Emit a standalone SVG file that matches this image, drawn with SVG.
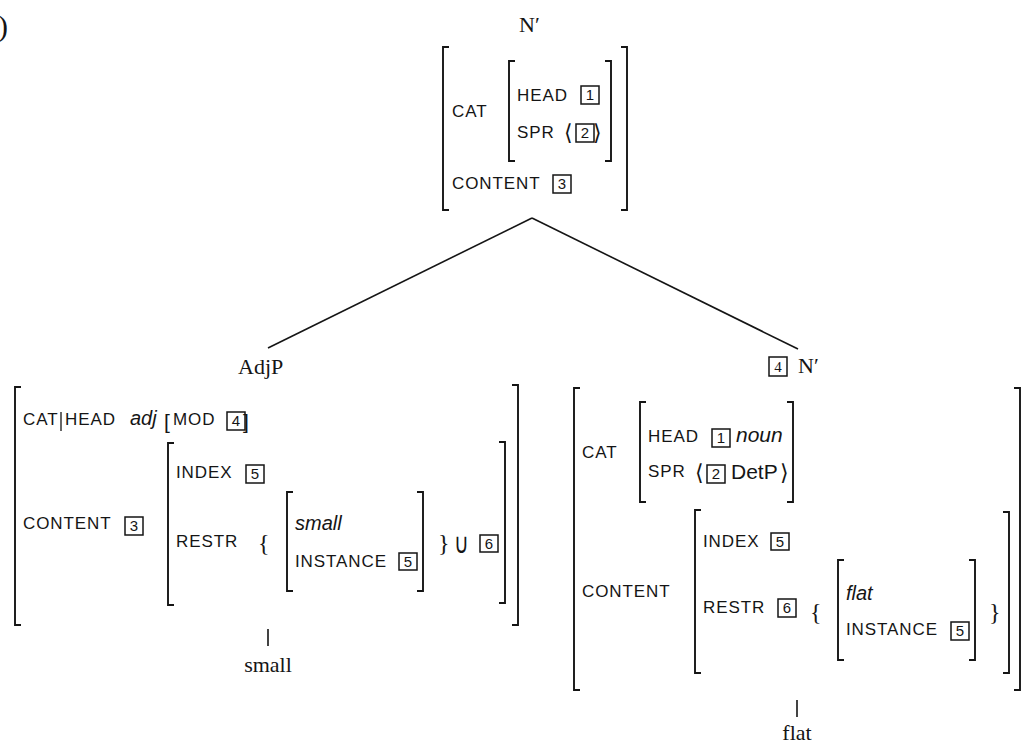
<svg xmlns="http://www.w3.org/2000/svg" width="1024" height="747" viewBox="0 0 1024 747">
<style>
.f{font-family:"Liberation Sans",Arial,sans-serif;font-size:17px;letter-spacing:0.9px;fill:#151515}
.i{font-family:"Liberation Sans",Arial,sans-serif;font-style:italic;font-size:20px;fill:#151515}
.m{font-family:"Liberation Sans",Arial,sans-serif;font-size:21px;fill:#151515}
.s{font-family:"Liberation Serif","Times New Roman",serif;font-size:22px;fill:#151515}
.d{font-family:"DejaVu Sans",sans-serif;font-size:22px;fill:#151515}
.n{font-family:"Liberation Sans",Arial,sans-serif;font-size:15px;text-anchor:middle;fill:#151515}
.bx{fill:none;stroke:#151515;stroke-width:1.5}
.br{fill:none;stroke:#151515;stroke-width:1.9}
.ln{fill:none;stroke:#151515;stroke-width:1.6}
</style>
<rect width="1024" height="747" fill="#ffffff"/>
<text class="s" x="-2" y="36" style="font-size:30px">)</text>

<g id="connectors">
<line class="ln" x1="532" y1="218" x2="268" y2="348"/>
<line class="ln" x1="532" y1="218" x2="798" y2="349"/>
<line class="ln" x1="268" y1="629" x2="268" y2="646"/>
<line class="ln" x1="797" y1="700" x2="797" y2="717"/>
</g>

<g id="root">
<text class="s" x="519" y="32">N′</text>
<path class="br" d="M449,47 H443 V210 H449"/>
<path class="br" d="M621,47 H627 V210 H621"/>
<path class="br" d="M515,61 H509 V161 H515"/>
<path class="br" d="M605,61 H611 V161 H605"/>
<text class="f" x="452" y="117">CAT</text>
<text class="f" x="517" y="101">HEAD</text>
<rect class="bx" x="581" y="86" width="18" height="18"/><text class="n" x="590" y="100">1</text>
<text class="f" x="517" y="138">SPR</text>
<text class="d" x="564" y="140">⟨</text>
<rect class="bx" x="576" y="124" width="18" height="18"/><text class="n" x="585" y="138">2</text>
<text class="d" x="593" y="140">⟩</text>
<text class="f" x="452" y="189">CONTENT</text>
<rect class="bx" x="553" y="175" width="18" height="18"/><text class="n" x="562" y="189">3</text>
</g>

<g id="adjp">
<text class="s" x="238" y="374">AdjP</text>
<path class="br" d="M21,387 H15 V625 H21"/>
<path class="br" d="M512,385 H518 V625 H512"/>
<text class="f" x="23" y="425">CAT</text>
<line class="ln" x1="61" y1="412" x2="61" y2="431" style="stroke-width:1.3"/>
<text class="f" x="65" y="425">HEAD</text>
<text class="i" x="130" y="425" style="font-size:20px">adj</text>
<text class="m" x="164" y="429" style="font-size:21px">[</text>
<text class="f" x="173" y="425">MOD</text>
<rect class="bx" x="227" y="412" width="18" height="18"/><text class="n" x="236" y="426">4</text>
<text class="m" x="243" y="429" style="font-size:21px">]</text>
<text class="f" x="23" y="529">CONTENT</text>
<rect class="bx" x="125" y="517" width="18" height="18"/><text class="n" x="134" y="531">3</text>
<path class="br" d="M174,443 H168 V605 H174"/>
<path class="br" d="M499,442 H505 V603 H499"/>
<text class="f" x="176" y="478">INDEX</text>
<rect class="bx" x="246" y="465" width="18" height="18"/><text class="n" x="255" y="479">5</text>
<text class="f" x="176" y="547">RESTR</text>
<text class="s" x="258" y="551" style="font-size:24px">{</text>
<path class="br" d="M293,492 H287 V591 H293"/>
<path class="br" d="M417,492 H423 V591 H417"/>
<text class="i" x="295" y="530">small</text>
<text class="f" x="295" y="567">INSTANCE</text>
<rect class="bx" x="399" y="553" width="18" height="17"/><text class="n" x="408" y="567">5</text>
<text class="s" x="438" y="551" style="font-size:24px">}</text>
<text class="d" transform="translate(454,553) scale(0.72,1)" style="font-size:28px">∪</text>
<rect class="bx" x="480" y="535" width="18" height="17"/><text class="n" x="489" y="549">6</text>
<text class="s" x="268" y="672" text-anchor="middle">small</text>
</g>

<g id="nbar">
<rect class="bx" x="769" y="357" width="18" height="19"/><text class="n" x="778" y="372" style="font-family:'Liberation Serif',serif">4</text>
<text class="s" x="798" y="373">N′</text>
<path class="br" d="M580,388 H574 V690 H580"/>
<path class="br" d="M1014,388 H1020 V690 H1014"/>
<text class="f" x="582" y="458">CAT</text>
<path class="br" d="M646,402 H640 V502 H646"/>
<path class="br" d="M787,402 H793 V502 H787"/>
<text class="f" x="648" y="442">HEAD</text>
<rect class="bx" x="712" y="429" width="18" height="18"/><text class="n" x="721" y="443">1</text>
<text class="i" x="736" y="442" style="font-size:21px">noun</text>
<text class="f" x="648" y="477">SPR</text>
<text class="d" x="695" y="480">⟨</text>
<rect class="bx" x="707" y="465" width="18" height="18"/><text class="n" x="716" y="479">2</text>
<text class="m" x="731" y="479">DetP</text>
<text class="d" x="780" y="480">⟩</text>
<text class="f" x="582" y="597">CONTENT</text>
<path class="br" d="M701,510 H695 V673 H701"/>
<path class="br" d="M1003,512 H1009 V673 H1003"/>
<text class="f" x="703" y="547">INDEX</text>
<rect class="bx" x="771" y="533" width="18" height="17"/><text class="n" x="780" y="547">5</text>
<text class="f" x="703" y="613">RESTR</text>
<rect class="bx" x="778" y="599" width="18" height="18"/><text class="n" x="787" y="613">6</text>
<text class="s" x="810" y="620" style="font-size:24px">{</text>
<path class="br" d="M844,560 H838 V660 H844"/>
<path class="br" d="M969,560 H975 V660 H969"/>
<text class="i" x="846" y="600">flat</text>
<text class="f" x="846" y="635">INSTANCE</text>
<rect class="bx" x="951" y="622" width="18" height="18"/><text class="n" x="960" y="636">5</text>
<text class="s" x="989" y="620" style="font-size:24px">}</text>
<text class="s" x="797" y="740" text-anchor="middle">flat</text>
</g>
</svg>
